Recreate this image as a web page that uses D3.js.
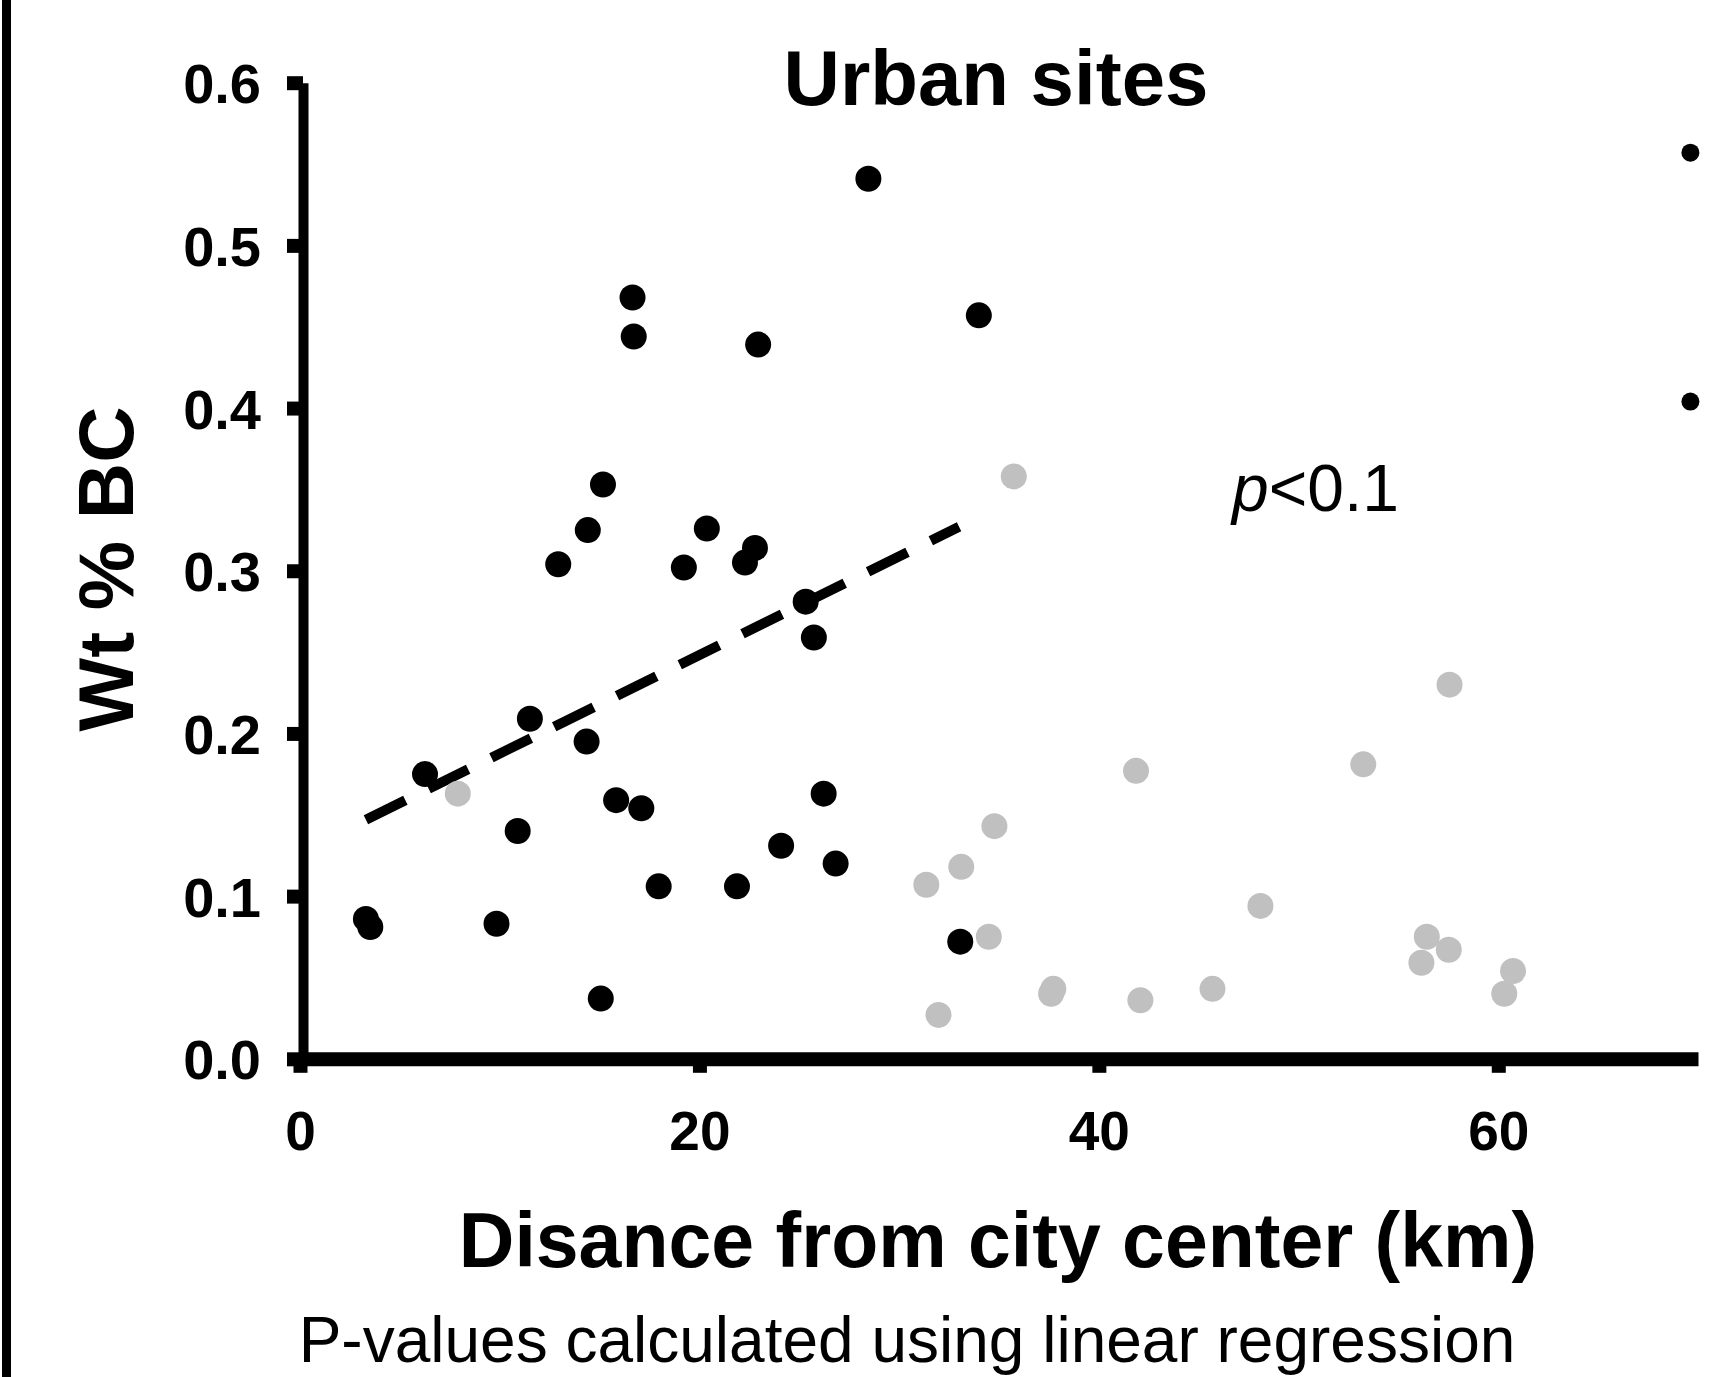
<!DOCTYPE html>
<html>
<head>
<meta charset="utf-8">
<script src="https://cdn.jsdelivr.net/npm/d3@7"></script>
<style>
  html, body { margin: 0; padding: 0; background: #fff; }
  svg { display: block; font-family: "Liberation Sans", Arial, sans-serif; }
</style>
</head>
<body>
<script>
// urban sites (black) and other sites (grey), km from centre vs wt % BC
const urbanKm  = [3.30, 3.52, 6.26, 9.84, 10.90, 11.51, 12.93, 14.35, 14.41, 15.06, 15.17, 15.83, 16.65, 16.71, 17.09,
                  17.96, 19.22, 20.37, 21.88, 22.28, 22.78, 22.94, 24.09, 25.32, 25.73, 26.22, 26.82, 28.46, 33.06, 33.99];
const urbanBC  = [0.086, 0.081, 0.175, 0.083, 0.140, 0.209, 0.304, 0.195, 0.325, 0.037, 0.353, 0.159, 0.468, 0.444, 0.154,
                  0.106, 0.302, 0.326, 0.106, 0.305, 0.314, 0.439, 0.131, 0.281, 0.259, 0.163, 0.120, 0.541, 0.072, 0.457];
const otherKm  = [7.90, 31.36, 31.97, 33.11, 34.49, 34.77, 35.74, 37.61, 37.72, 41.86, 42.08, 45.69, 48.09, 53.24, 56.15,
                  56.42, 57.52, 57.56, 60.30, 60.74];
const otherBC  = [0.163, 0.107, 0.027, 0.118, 0.075, 0.143, 0.358, 0.040, 0.043, 0.177, 0.036, 0.043, 0.094, 0.181, 0.059,
                  0.075, 0.067, 0.230, 0.040, 0.054];
// points of the neighbouring panel, cut at the right edge
const edgeKm   = [69.62, 69.62];
const edgeBC   = [0.557, 0.404];
// regression line ends
const fitKm    = [3.30, 33.0];
const fitBC    = [0.147, 0.327];

const xTicks = [0, 20, 40, 60];
const yTicks = [0, 0.1, 0.2, 0.3, 0.4, 0.5, 0.6];

const WIDTH = 1713;
const HEIGHT = 1377;

const svg = d3.select('body')
  .append('svg')
  .attr('width', WIDTH)
  .attr('height', HEIGHT);

// frame line on the left
svg.append('rect')
  .attr('x', 2).attr('y', 0)
  .attr('width', 9).attr('height', HEIGHT)
  .attr('fill', '#000');

const x = d3.scaleLinear().domain([0, 70]).range([300, 1698]);
const y = d3.scaleLinear().domain([0, 0.6]).range([1058.8, 82.7]);

// x axis
const gx = svg.append('g')
  .attr('transform', `translate(0, ${y(0)})`)
  .call(d3.axisBottom(x).tickValues(xTicks).tickSizeOuter(0).tickSizeInner(14));
gx.select('.domain').attr('stroke', '#000').attr('stroke-width', 14);
gx.selectAll('.tick line').attr('stroke', '#000').attr('stroke-width', 14);
gx.selectAll('.tick text')
  .attr('y', 91).attr('dy', 0)
  .attr('fill', '#000')
  .style('font-size', '55px').style('font-weight', 'bold')
  .style('font-family', '"Liberation Sans", Arial, sans-serif');

// y axis
const gy = svg.append('g')
  .attr('transform', `translate(303, 0)`)
  .call(d3.axisLeft(y).tickValues(yTicks).tickFormat(d3.format('.1f')).tickSizeOuter(0).tickSizeInner(16));
gy.select('.domain').attr('stroke', '#000').attr('stroke-width', 10);
gy.selectAll('.tick line').attr('stroke', '#000').attr('stroke-width', 14);
gy.selectAll('.tick text')
  .attr('x', -42).attr('dy', '0.36em')
  .attr('fill', '#000')
  .style('font-size', '56px').style('font-weight', 'bold')
  .style('font-family', '"Liberation Sans", Arial, sans-serif');

const urban = urbanKm.map((d, i) => ({km: d, bc: urbanBC[i]}));
const other = otherKm.map((d, i) => ({km: d, bc: otherBC[i]}));
const edge  = edgeKm.map((d, i) => ({km: d, bc: edgeBC[i]}));

svg.append('g').selectAll('circle')
  .data(urban)
  .enter().append('circle')
    .attr('cx', d => x(d.km))
    .attr('cy', d => y(d.bc))
    .attr('r', 13)
    .attr('fill', '#000');

svg.append('g').selectAll('circle')
  .data(edge)
  .enter().append('circle')
    .attr('cx', d => x(d.km))
    .attr('cy', d => y(d.bc))
    .attr('r', 9)
    .attr('fill', '#000');

// dashed fit line
svg.append('line')
  .attr('x1', x(fitKm[0])).attr('y1', y(fitBC[0]))
  .attr('x2', x(fitKm[1])).attr('y2', y(fitBC[1]))
  .attr('stroke', '#000')
  .attr('stroke-width', 10)
  .attr('stroke-dasharray', '44,26');

svg.append('g').selectAll('circle')
  .data(other)
  .enter().append('circle')
    .attr('cx', d => x(d.km))
    .attr('cy', d => y(d.bc))
    .attr('r', 13)
    .attr('fill', '#c0c0c0');

// texts
svg.append('text')
  .attr('x', 996).attr('y', 105)
  .attr('text-anchor', 'middle')
  .style('font-size', '78px').style('font-weight', 'bold')
  .text('Urban sites');

const pt = svg.append('text')
  .attr('x', 1232).attr('y', 511)
  .style('font-size', '66px');
pt.append('tspan').style('font-style', 'italic').text('p');
pt.append('tspan').text('<0.1');

svg.append('text')
  .attr('transform', 'translate(133, 569) rotate(-90)')
  .attr('text-anchor', 'middle')
  .style('font-size', '78px').style('font-weight', 'bold')
  .text('Wt % BC');

svg.append('text')
  .attr('x', 998).attr('y', 1267)
  .attr('text-anchor', 'middle')
  .style('font-size', '77px').style('font-weight', 'bold')
  .text('Disance from city center (km)');

svg.append('text')
  .attr('x', 907).attr('y', 1362)
  .attr('text-anchor', 'middle')
  .style('font-size', '64px')
  .text('P-values calculated using linear regression');
</script>
</body>
</html>
